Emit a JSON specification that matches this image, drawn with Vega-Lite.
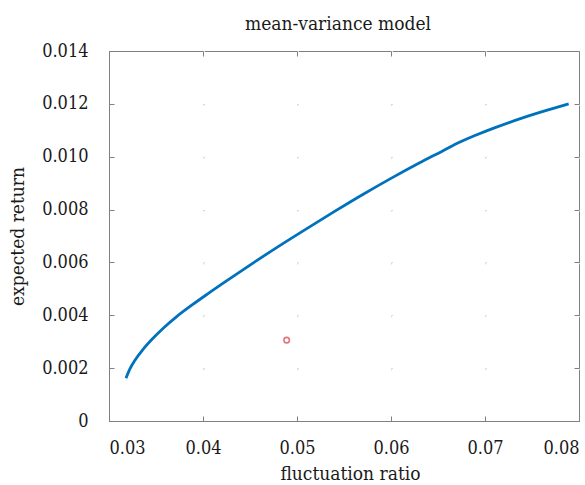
{
  "$schema": "https://vega.github.io/schema/vega-lite/v6.json",
  "autosize": {"type": "none"},
  "width": 470,
  "height": 370,
  "padding": {"left": 109, "top": 51, "right": 6, "bottom": 64},
  "background": "white",
  "config": {
    "font": "DejaVu Serif Condensed, DejaVu Serif, serif",
    "view": {"stroke": "#808080", "strokeWidth": 1},
    "axis": {
      "labelFont": "DejaVu Serif Condensed, DejaVu Serif, serif",
      "titleFont": "DejaVu Serif Condensed, DejaVu Serif, serif",
      "labelFontSize": 18,
      "titleFontSize": 19,
      "titleFontWeight": "normal",
      "labelColor": "#1a1a1a",
      "titleColor": "#1a1a1a",
      "domainColor": "#808080",
      "tickColor": "#808080",
      "gridColor": "#d8d8d8"
    }
  },
  "title": {
    "text": "mean-variance model",
    "font": "DejaVu Serif Condensed, DejaVu Serif, serif",
    "fontSize": 19,
    "fontWeight": "normal",
    "color": "#1a1a1a",
    "offset": 8,
    "dx": -6,
    "anchor": "middle"
  },
  "datasets": {
    "frontier": [
      {"risk": 0.03181, "ret": 0.00162},
      {"risk": 0.0322, "ret": 0.00195},
      {"risk": 0.0328, "ret": 0.00232},
      {"risk": 0.0336, "ret": 0.00270},
      {"risk": 0.0346, "ret": 0.00310},
      {"risk": 0.0358, "ret": 0.00352},
      {"risk": 0.0372, "ret": 0.00395},
      {"risk": 0.0388, "ret": 0.00438},
      {"risk": 0.0405, "ret": 0.00481},
      {"risk": 0.0425, "ret": 0.00530},
      {"risk": 0.0450, "ret": 0.00590},
      {"risk": 0.0480, "ret": 0.00660},
      {"risk": 0.0510, "ret": 0.00727},
      {"risk": 0.0540, "ret": 0.00793},
      {"risk": 0.0570, "ret": 0.00857},
      {"risk": 0.0600, "ret": 0.00918},
      {"risk": 0.0630, "ret": 0.00976},
      {"risk": 0.0655, "ret": 0.01022},
      {"risk": 0.0670, "ret": 0.01050},
      {"risk": 0.0690, "ret": 0.01081},
      {"risk": 0.0710, "ret": 0.01109},
      {"risk": 0.0740, "ret": 0.01147},
      {"risk": 0.0770, "ret": 0.01180},
      {"risk": 0.0789, "ret": 0.01200}
    ],
    "portfolio": [
      {"risk": 0.0489, "ret": 0.00306}
    ]
  },
  "layer": [
    {
      "data": {"name": "frontier"},
      "mark": {"type": "line", "color": "#0072BD", "strokeWidth": 2.8, "interpolate": "monotone"},
      "encoding": {
        "x": {
          "field": "risk", "type": "quantitative",
          "scale": {"domain": [0.03, 0.08], "nice": false, "zero": false},
          "axis": {
            "title": "fluctuation ratio",
            "values": [0.03, 0.04, 0.05, 0.06, 0.07, 0.08],
            "format": ".2f",
            "tickSize": -5,
            "labelPadding": 23,
            "titlePadding": 7,
            "titleX": 241,
            "grid": true,
            "gridDash": [1.5, 51.36]
          }
        },
        "y": {
          "field": "ret", "type": "quantitative",
          "scale": {"domain": [0, 0.014], "nice": false},
          "axis": {
            "title": "expected return",
            "values": [0, 0.002, 0.004, 0.006, 0.008, 0.01, 0.012, 0.014],
            "labelExpr": "datum.value == 0 ? '0' : format(datum.value, '.3f')",
            "tickSize": -5,
            "labelPadding": 26,
            "titlePadding": 14,
            "grid": true,
            "gridDash": [1.5, 92.5]
          }
        }
      }
    },
    {
      "data": {"name": "portfolio"},
      "mark": {"type": "point", "shape": "circle", "filled": false, "color": "#D93A45", "strokeWidth": 1.6, "size": 30},
      "encoding": {
        "x": {
          "field": "risk", "type": "quantitative",
          "axis": {"orient": "top", "title": null, "labels": false, "grid": false, "domain": false, "values": [0.03, 0.04, 0.05, 0.06, 0.07, 0.08], "tickSize": -5}
        },
        "y": {
          "field": "ret", "type": "quantitative",
          "axis": {"orient": "right", "title": null, "labels": false, "grid": false, "domain": false, "values": [0, 0.002, 0.004, 0.006, 0.008, 0.01, 0.012, 0.014], "tickSize": -5}
        }
      }
    }
  ],
  "resolve": {"axis": {"x": "independent", "y": "independent"}}
}
